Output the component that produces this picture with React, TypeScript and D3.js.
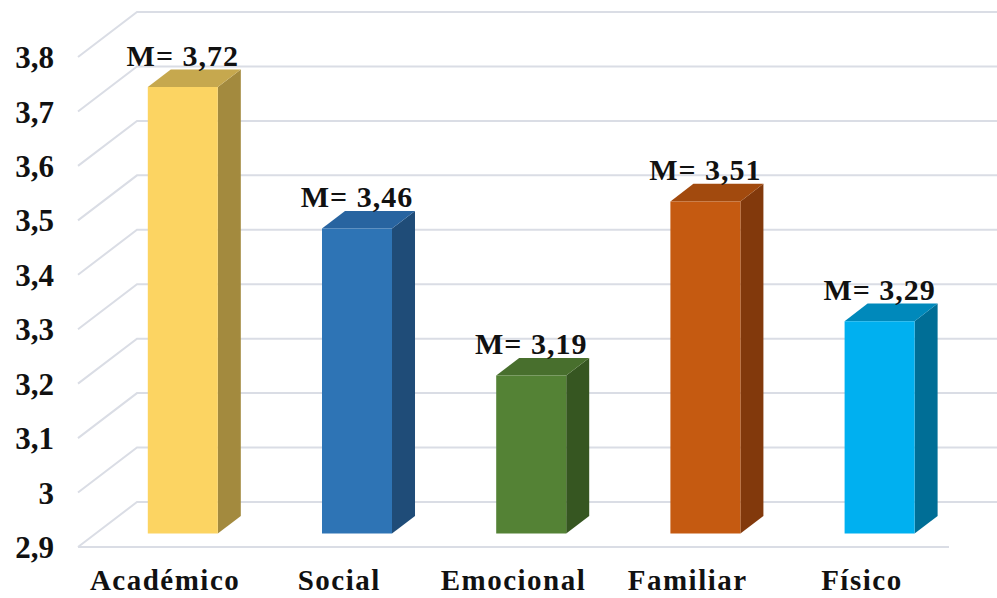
import React from "react";
import * as d3 from "d3";

const categories = ["Académico", "Social", "Emocional", "Familiar", "Físico"];
const means = [3.72, 3.46, 3.19, 3.51, 3.29];
const meanLabels = ["M= 3,72", "M= 3,46", "M= 3,19", "M= 3,51", "M= 3,29"];
const ticks = [2.9, 3.0, 3.1, 3.2, 3.3, 3.4, 3.5, 3.6, 3.7, 3.8];
const tickLabels = ["2,9", "3", "3,1", "3,2", "3,3", "3,4", "3,5", "3,6", "3,7", "3,8"];
const faceColors = ["#FCD462", "#2E74B5", "#548235", "#C55A11", "#00B0F0"];
const sideColors = ["#A38A3E", "#1F4C78", "#365621", "#82390C", "#006E96"];
const topColors = ["#C6A84E", "#2864A0", "#486F2D", "#A24A0E", "#0089BB"];

const W = 997;
const H = 598;
const DEPTH_X = 59;
const DEPTH_Y = -45;
const FONT = "Liberation Serif, Tinos, Times New Roman, DejaVu Serif, serif";

export default function App() {
  const x = d3.scaleBand<string>().domain(categories).range([78, 949]);
  const y = d3.scaleLinear().domain([2.9, 3.8]).range([547, 57]);
  const proj = (px: number, py: number, d: number): [number, number] => [
    px + DEPTH_X * d,
    py + DEPTH_Y * d,
  ];
  const d0 = 0.3;
  const d1 = 0.69;
  const half = 35;
  const line = d3.line();

  return (
    <svg width={W} height={H} style={{ position: "absolute", left: 0, top: 0, background: "#fff" }}>
      {/* gridlines: side wall diagonal + back wall horizontal */}
      {ticks.map((t, i) => {
        const fy = y(t);
        const [bx, by] = proj(78, fy, 1);
        return (
          <path key={i} d={line([[78, fy], [bx, by], [W, by]]) || ""} fill="none" stroke="#DADDE5" strokeWidth={2} />
        );
      })}
      <line x1={78} x2={949} y1={y(2.9)} y2={y(2.9)} stroke="#DADDE5" strokeWidth={2} />
      {/* tick labels */}
      {ticks.map((t, i) => (
        <text key={i} x={54} y={y(t)} dy="0.36em" textAnchor="end" style={{ fontFamily: FONT }} fontWeight="bold" fontSize={31} fill="#111">
          {tickLabels[i]}
        </text>
      ))}
      {/* bars */}
      {categories.map((c, i) => {
        const cx = (x(c) as number) + x.bandwidth() / 2;
        const base = y(2.9);
        const top = y(means[i]);
        const fl = proj(cx - half, top, d0);
        const fr = proj(cx + half, top, d0);
        const flb = proj(cx - half, base, d0);
        const frb = proj(cx + half, base, d0);
        const bl = proj(cx - half, top, d1);
        const br = proj(cx + half, top, d1);
        const brb = proj(cx + half, base, d1);
        return (
          <g key={c}>
            <path d={line([fr, br, brb, frb]) + "Z"} fill={sideColors[i]} />
            <path d={line([fl, bl, br, fr]) + "Z"} fill={topColors[i]} />
            <path d={line([fl, fr, frb, flb]) + "Z"} fill={faceColors[i]} />
            <text x={(fl[0] + fr[0]) / 2} y={bl[1] - 4} textAnchor="middle" style={{ fontFamily: FONT }} fontWeight="bold" fontSize={30} letterSpacing={1} fill="#111">
              {meanLabels[i]}
            </text>
          </g>
        );
      })}
      {/* category labels */}
      {categories.map((c) => (
        <text key={c} x={(x(c) as number) + x.bandwidth() / 2} y={590} textAnchor="middle" style={{ fontFamily: FONT }} fontWeight="bold" fontSize={29} letterSpacing={1.5} fill="#111">
          {c}
        </text>
      ))}
    </svg>
  );
}
